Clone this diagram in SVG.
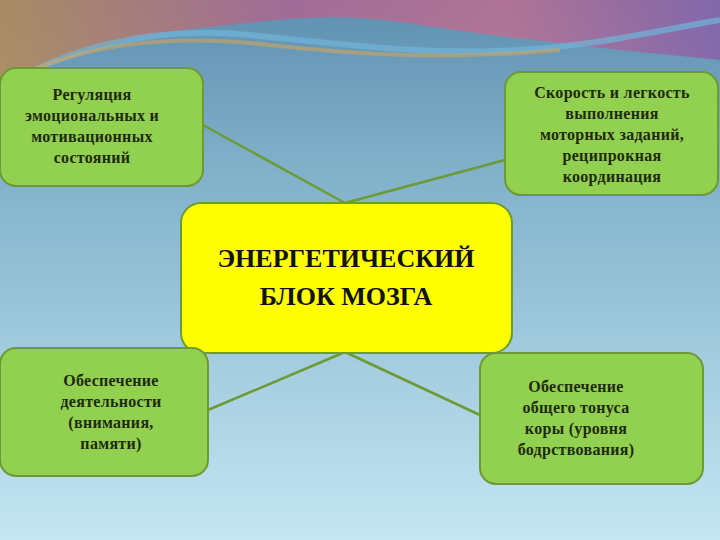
<svg xmlns="http://www.w3.org/2000/svg" width="720" height="540" viewBox="0 0 720 540">
<defs>
<linearGradient id="bg" x1="0" y1="0" x2="0" y2="1">
<stop offset="0" stop-color="#5f8fb0"/><stop offset="0.3" stop-color="#7fb0c9"/><stop offset="1" stop-color="#c4e6f2"/>
</linearGradient>
<linearGradient id="sw" x1="0" y1="0" x2="1" y2="0">
<stop offset="0" stop-color="#c08a4a"/><stop offset="0.4" stop-color="#b5608f"/><stop offset="0.7" stop-color="#c96a8c"/><stop offset="1" stop-color="#8c5aa8"/>
</linearGradient>
<style>
.n{fill:#92d050;stroke:#6c9a34;stroke-width:2}
.c{fill:#ffff00;stroke:#6c9a34;stroke-width:2}
.t{font-family:"Liberation Serif",serif;font-size:16px;font-weight:bold;fill:#1f2a10;text-anchor:middle;letter-spacing:0.3px}
.b{font-family:"Liberation Serif",serif;font-size:26px;font-weight:bold;fill:#111;text-anchor:middle}
.l{stroke:#6c9a34;stroke-width:2.5;fill:none}
</style>
</defs>
<rect width="720" height="540" fill="url(#bg)"/>
<path d="M0,0 H720 V60 C620,50 520,40 420,25 C330,10 280,20 200,28 C120,36 50,60 0,90 Z" fill="url(#sw)" opacity="0.75"/>
<path d="M0,90 C60,50 150,25 250,35 C350,45 420,55 520,50 C600,45 660,30 720,20" stroke="#6fb5d8" stroke-width="6" fill="none" opacity="0.7"/>
<path d="M20,75 C100,40 180,35 270,45 C360,55 450,60 560,50" stroke="#e4a64a" stroke-width="4" fill="none" opacity="0.5"/>
<g id="connectors">
<line class="l" x1="203" y1="125" x2="345" y2="203"/>
<line class="l" x1="505" y1="160" x2="345" y2="203"/>
<line class="l" x1="208" y1="410" x2="345" y2="352"/>
<line class="l" x1="482" y1="416" x2="345" y2="352"/>
</g>
<g id="n1"><rect class="n" x="0" y="68" width="203" height="118" rx="16"/>
<text class="t" x="92" y="100">Регуляция</text><text class="t" x="92" y="121">эмоциональных и</text><text class="t" x="92" y="142">мотивационных</text><text class="t" x="92" y="163">состояний</text></g>
<g id="n2"><rect class="n" x="505" y="72" width="213" height="123" rx="16"/>
<text class="t" x="612" y="98">Скорость и легкость</text><text class="t" x="612" y="119">выполнения</text><text class="t" x="612" y="140">моторных заданий,</text><text class="t" x="612" y="161">реципрокная</text><text class="t" x="612" y="182">координация</text></g>
<g id="center"><rect class="c" x="181" y="203" width="331" height="150" rx="20"/>
<text class="b" x="346" y="267">ЭНЕРГЕТИЧЕСКИЙ</text><text class="b" x="346" y="305">БЛОК МОЗГА</text></g>
<g id="n3"><rect class="n" x="0" y="348" width="208" height="128" rx="16"/>
<text class="t" x="111" y="386">Обеспечение</text><text class="t" x="111" y="407">деятельности</text><text class="t" x="111" y="428">(внимания,</text><text class="t" x="111" y="449">памяти)</text></g>
<g id="n4"><rect class="n" x="480" y="353" width="223" height="131" rx="16"/>
<text class="t" x="576" y="392">Обеспечение</text><text class="t" x="576" y="413">общего тонуса</text><text class="t" x="576" y="434">коры (уровня</text><text class="t" x="576" y="455">бодрствования)</text></g>
</svg>
